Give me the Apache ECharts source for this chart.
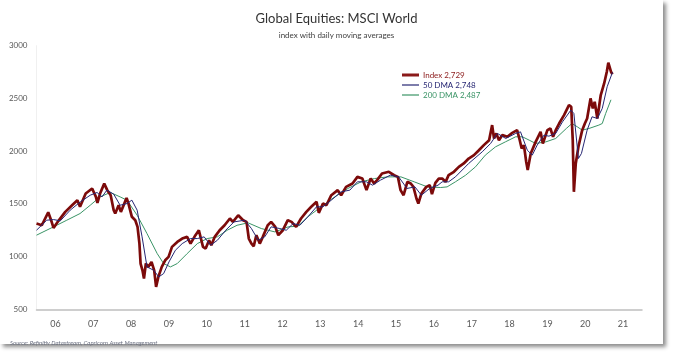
<!DOCTYPE html>
<html>
<head>
<meta charset="utf-8">
<title>Global Equities: MSCI World</title>
<script src="https://cdn.jsdelivr.net/npm/echarts@6/dist/echarts.min.js"></script>
<style>
  html, body { margin: 0; padding: 0; background: #fff; }
  #card { position: absolute; left: 0; top: 0; width: 663px; height: 344px; background: #fff;
          box-shadow: 3px 3px 4px rgba(0,0,0,0.45); }
  #main { position: absolute; left: 0; top: 0; width: 673px; height: 352px; }
</style>
</head>
<body>
<div id="card"></div>
<div id="main"></div>
<script>
// year labels on the x axis
var yearLabels = ['06','07','08','09','10','11','12','13','14','15','16','17','18','19','20','21'];

// MSCI World index (decimal years)
var indexYears = [2006.00,2006.14,2006.31,2006.40,2006.45,2006.58,2006.76,2006.94,2007.08,2007.15,
  2007.30,2007.47,2007.57,2007.61,2007.68,2007.79,2007.87,2007.96,2008.04,2008.08,
  2008.17,2008.23,2008.38,2008.43,2008.52,2008.61,2008.67,2008.72,2008.75,2008.80,
  2008.84,2008.89,2008.95,2009.04,2009.11,2009.16,2009.22,2009.31,2009.40,2009.49,
  2009.58,2009.72,2009.85,2009.98,2010.07,2010.20,2010.29,2010.40,2010.47,2010.56,
  2010.62,2010.71,2010.84,2010.97,2011.11,2011.19,2011.33,2011.46,2011.55,2011.61,
  2011.68,2011.74,2011.81,2011.90,2011.98,2012.11,2012.20,2012.31,2012.39,2012.51,
  2012.64,2012.74,2012.86,2012.99,2013.13,2013.26,2013.40,2013.46,2013.57,2013.66,
  2013.79,2013.96,2014.05,2014.18,2014.35,2014.48,2014.61,2014.72,2014.83,2014.92,
  2015.00,2015.13,2015.31,2015.45,2015.55,2015.62,2015.70,2015.80,2015.89,2015.96,
  2016.04,2016.09,2016.17,2016.30,2016.39,2016.45,2016.54,2016.63,2016.72,2016.81,
  2016.89,2017.03,2017.16,2017.29,2017.42,2017.56,2017.69,2017.82,2017.96,2018.04,
  2018.09,2018.15,2018.22,2018.31,2018.44,2018.55,2018.70,2018.77,2018.82,2018.88,
  2018.94,2018.98,2019.06,2019.19,2019.32,2019.38,2019.50,2019.58,2019.65,2019.72,
  2019.81,2019.94,2020.07,2020.13,2020.17,2020.20,2020.25,2020.32,2020.42,2020.49,
  2020.55,2020.64,2020.70,2020.75,2020.82,2020.91,2021.00,2021.07,2021.11,2021.18,
  2021.22];
var indexValues = [1313,1297,1420,1330,1272,1339,1424,1487,1535,1472,
  1598,1646,1566,1509,1598,1692,1630,1582,1440,1408,
  1487,1424,1555,1503,1377,1345,1282,1123,934,870,
  791,934,902,949,870,712,807,902,965,997,
  1092,1139,1171,1187,1123,1203,1250,1092,1076,1155,
  1108,1187,1250,1297,1361,1329,1392,1345,1329,1171,
  1123,1098,1203,1123,1187,1297,1329,1282,1203,1250,
  1345,1329,1282,1361,1424,1472,1519,1415,1503,1487,
  1582,1630,1582,1661,1693,1756,1740,1630,1740,1693,
  1725,1788,1804,1772,1756,1630,1582,1709,1693,1661,
  1551,1503,1598,1661,1677,1592,1699,1740,1740,1709,
  1772,1804,1851,1883,1930,1962,2009,2057,2104,2247,
  2120,2168,2104,2152,2136,2168,2199,2104,2025,2057,
  1899,1820,1978,2088,2183,2073,2199,2215,2136,2199,
  2262,2342,2437,2421,2104,1614,1883,2041,2199,2262,
  2310,2500,2405,2468,2310,2532,2642,2753,2839,2753,
  2729];

// 50-day moving average
var dma50Years = [2006.00,2006.27,2006.45,2006.63,2006.89,2007.16,2007.42,2007.60,2007.73,2007.86,
  2008.04,2008.21,2008.39,2008.52,2008.66,2008.79,2008.92,2009.10,2009.23,2009.36,
  2009.50,2009.67,2009.85,2010.07,2010.25,2010.43,2010.60,2010.78,2011.00,2011.22,
  2011.50,2011.68,2011.86,2012.03,2012.20,2012.43,2012.60,2012.78,2012.96,2013.17,
  2013.40,2013.57,2013.79,2014.05,2014.28,2014.48,2014.72,2014.88,2015.09,2015.35,
  2015.57,2015.79,2016.00,2016.17,2016.39,2016.61,2016.72,2016.89,2017.07,2017.42,
  2017.78,2018.00,2018.18,2018.40,2018.66,2018.79,2018.97,2019.10,2019.23,2019.41,
  2019.54,2019.72,2019.90,2020.12,2020.20,2020.32,2020.40,2020.55,2020.68,2020.82,
  2020.95,2021.08,2021.22];
var dma50Values = [1250,1345,1351,1339,1440,1519,1582,1608,1566,1630,
  1592,1487,1503,1535,1440,1187,902,870,807,839,
  949,1060,1123,1171,1171,1187,1108,1155,1250,1329,
  1345,1266,1155,1187,1282,1266,1250,1313,1297,1377,
  1472,1472,1535,1614,1630,1709,1709,1677,1725,1772,
  1756,1646,1661,1582,1646,1677,1709,1709,1756,1883,
  1994,2073,2168,2120,2168,2183,2009,1962,2057,2152,
  2142,2168,2278,2389,2357,1930,1978,2199,2326,2310,
  2405,2611,2748];

// 200-day moving average
var dma200Years = [2006.00,2006.45,2006.80,2007.15,2007.42,2007.68,2007.95,2008.21,2008.39,2008.66,
  2008.92,2009.19,2009.36,2009.54,2009.72,2009.98,2010.25,2010.51,2010.78,2011.04,
  2011.30,2011.59,2011.94,2012.30,2012.65,2012.91,2013.17,2013.52,2013.88,2014.23,
  2014.58,2014.93,2015.28,2015.63,2015.98,2016.33,2016.68,2016.85,2017.07,2017.34,
  2017.60,2017.86,2018.13,2018.39,2018.66,2018.84,2019.02,2019.19,2019.46,2019.72,
  2020.00,2020.15,2020.29,2020.42,2020.60,2020.86,2020.95,2021.04,2021.18];
var dma200Values = [1203,1282,1345,1408,1487,1566,1608,1566,1535,1392,
  1218,1028,934,902,934,1028,1123,1171,1187,1250,
  1297,1320,1266,1234,1282,1288,1377,1472,1566,1646,
  1709,1740,1756,1756,1709,1661,1655,1661,1709,1772,
  1851,1962,2041,2088,2136,2136,2104,2073,2088,2120,
  2215,2262,2231,2199,2215,2247,2262,2357,2487];

var indexName = 'Index 2,729';
var dma50Name = '50 DMA 2,748';
var dma200Name = '200 DMA 2,487';

function pairs(xs, ys) {
  return xs.map(function (x, i) { return [x, ys[i]]; });
}

// one legend per row so each sample line can have its own thickness
function legendRow(name, color, top, thick) {
  return {
    data: [name], left: 397, top: top, icon: 'rect',
    itemWidth: 17, itemHeight: thick, itemGap: 0,
    itemStyle: { color: color },
    textStyle: { fontSize: 8, color: color, padding: [0, 0, 0, -1] }
  };
}

var chart = echarts.init(document.getElementById('main'), null, { renderer: 'canvas' });

var option = {
  animation: false,
  textStyle: { fontFamily: 'Lato, "Open Sans", sans-serif' },
  title: [
    { text: 'Global Equities: MSCI World', left: 'center', top: 7,
      textStyle: { fontSize: 13, fontWeight: 'normal', color: '#333333' } },
    { text: 'index with daily moving averages', left: 'center', top: 26,
      textStyle: { fontSize: 8, fontWeight: 'normal', color: '#404040' } },
    { text: 'Source: Refinitiv Datastream, Capricorn Asset Management', left: 5, top: 335,
      textStyle: { fontSize: 6, fontStyle: 'italic', fontWeight: 'normal', color: '#6a6f80' } }
  ],
  legend: [
    legendRow(indexName, '#8b1a1a', 66, 3),
    legendRow(dma50Name, '#262673', 76, 1.2),
    legendRow(dma200Name, '#3a9466', 86, 1.2)
  ],
  grid: { left: 36.5, right: 31, top: 45.7, bottom: 42.7 },
  xAxis: [
    { type: 'category', data: yearLabels, boundaryGap: true, position: 'bottom',
      axisLine: { lineStyle: { color: '#bfbfbf', width: 1.5 } },
      axisTick: { inside: true, length: 4, lineStyle: { color: '#bfbfbf' } },
      axisLabel: { fontSize: 9, color: '#595959', margin: 10 } },
    { type: 'value', min: 2006, max: 2022, show: false }
  ],
  yAxis: {
    type: 'value', min: 500, max: 3000, interval: 500,
    axisLine: { show: true, lineStyle: { color: '#f0f0f0' } },
    axisTick: { show: false },
    splitLine: { show: false },
    axisLabel: { fontSize: 8, color: '#595959', margin: 9,
      formatter: function (v) { return String(v); } }
  },
  series: [
    { name: dma200Name, type: 'line', xAxisIndex: 1, showSymbol: false, symbol: 'none',
      lineStyle: { color: '#3a9466', width: 1 }, itemStyle: { color: '#3a9466' },
      data: pairs(dma200Years, dma200Values), z: 2 },
    { name: indexName, type: 'line', xAxisIndex: 1, showSymbol: false, symbol: 'none',
      lineStyle: { color: '#7c0a0a', width: 2.7 }, itemStyle: { color: '#7c0a0a' },
      data: pairs(indexYears, indexValues), z: 3 },
    { name: dma50Name, type: 'line', xAxisIndex: 1, showSymbol: false, symbol: 'none',
      lineStyle: { color: '#262673', width: 1 }, itemStyle: { color: '#262673' },
      data: pairs(dma50Years, dma50Values), z: 4 }
  ]
};

chart.setOption(option);
</script>
</body>
</html>
